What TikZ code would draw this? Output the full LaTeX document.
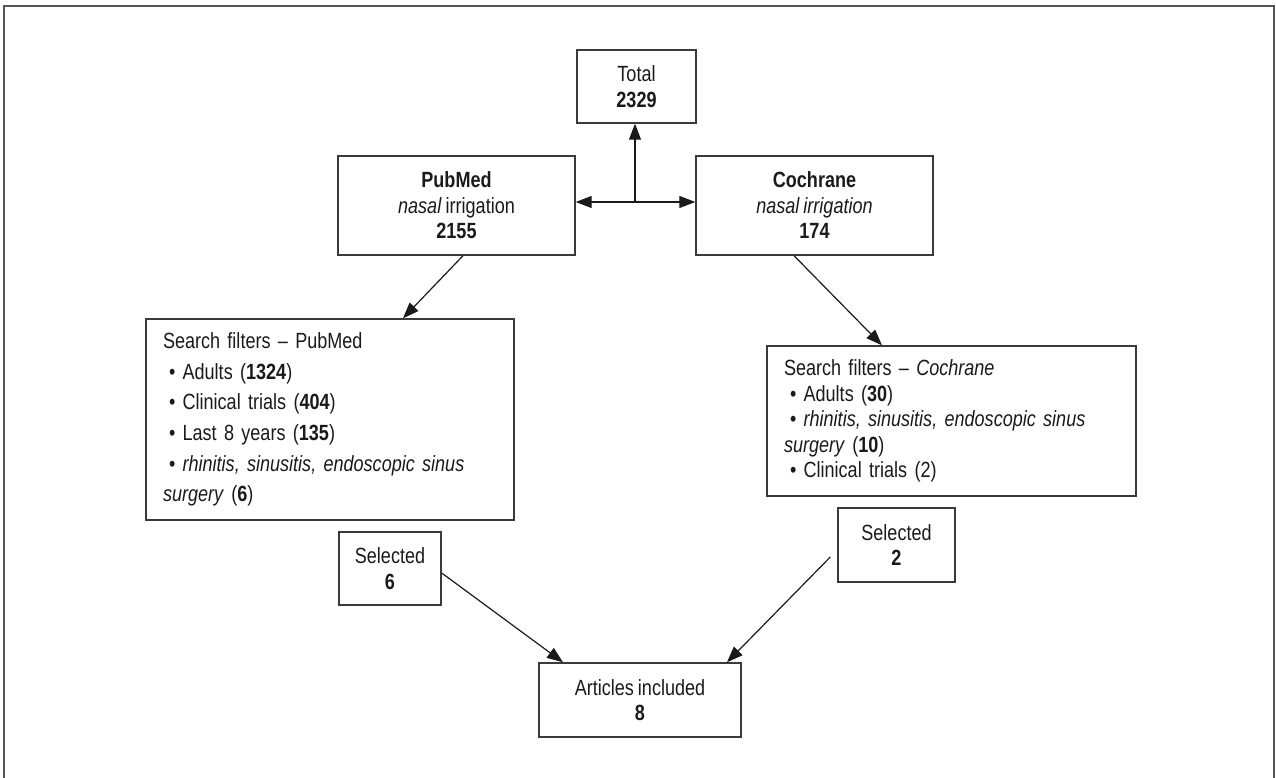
\documentclass[tikz,border=0pt]{standalone}
\usepackage{fontspec}
\setmainfont{Liberation Sans}[FakeStretch=0.82,WordSpace=0.8]
\usetikzlibrary{arrows.meta}
\definecolor{ink}{HTML}{1A1A1A}
\definecolor{boxline}{HTML}{3A3A3A}
\definecolor{frameline}{HTML}{555555}
\begin{document}
\begin{tikzpicture}[x=1pt,y=-1pt,
  >={Triangle[length=16pt,width=12pt]},
  box/.style={draw=boxline, line width=1.4pt, text=ink, inner sep=0pt, align=center,
    font=\fontsize{22}{25.5}\selectfont},
  listbox/.style={draw=boxline, line width=1.4pt, text=ink, inner xsep=17pt, inner ysep=0pt,
    align=left},
  conn/.style={draw=ink, line width=1.2pt, ->},
  frame/.style={draw=frameline, line width=2.5pt}
]
\useasboundingbox (0,0) rectangle (1276,778);
\draw[frame] (4,778) -- (4,6) -- (1274,6) -- (1274,778);

\node[box, minimum width=119pt, minimum height=73pt] (total) at (636.5,86.5) {Total\\\textbf{2329}};
\node[box, minimum width=237pt, minimum height=99pt] (pubmed) at (456.5,205.5)
  {\textbf{PubMed}\\\textit{nasal} irrigation\\\textbf{2155}};
\node[box, minimum width=237pt, minimum height=99pt] (cochrane) at (814.5,205.5)
  {\textbf{Cochrane}\\\textit{nasal irrigation}\\\textbf{174}};

\node[listbox, text width=334pt, minimum height=201pt, font=\fontsize{22}{30.6}\selectfont]
  (psearch) at (330,419.5)
  {Search filters -- PubMed\\
   \hspace*{6pt}\textbullet\ Adults (\textbf{1324})\\
   \hspace*{6pt}\textbullet\ Clinical trials (\textbf{404})\\
   \hspace*{6pt}\textbullet\ Last 8 years (\textbf{135})\\
   \hspace*{6pt}\textbullet\ \textit{rhinitis, sinusitis, endoscopic sinus}\\
   \textit{surgery} (\textbf{6})};
\node[listbox, text width=335pt, minimum height=150pt, font=\fontsize{22}{25.5}\selectfont]
  (csearch) at (951.5,421)
  {Search filters -- \textit{Cochrane}\\
   \hspace*{6pt}\textbullet\ Adults (\textbf{30})\\
   \hspace*{6pt}\textbullet\ \textit{rhinitis, sinusitis, endoscopic sinus}\\
   \textit{surgery} (\textbf{10})\\
   \hspace*{6pt}\textbullet\ Clinical trials (2)};

\node[box, minimum width=102pt, minimum height=73pt] (sel6) at (390,568.5) {Selected\\\textbf{6}};
\node[box, minimum width=117pt, minimum height=74pt] (sel2) at (896.5,545) {Selected\\\textbf{2}};
\node[box, minimum width=202pt, minimum height=74pt] (articles) at (640,700) {Articles included\\\textbf{8}};

\coordinate (mid) at (635,202);
\draw[conn, <->] (pubmed.east |- mid) -- (cochrane.west |- mid);
\draw[conn] (mid) -- (mid |- total.south);
\draw[conn] ([xshift=6.5pt]pubmed.south) -- ([xshift=73pt]psearch.north);
\draw[conn] ([xshift=-20.5pt]cochrane.south) -- ([xshift=-69.5pt]csearch.north);
\draw[conn] ([yshift=-4.5pt]sel6.east) -- ([xshift=-77pt]articles.north);
\draw[conn] ([xshift=-7pt,yshift=-12pt]sel2.west) -- ([xshift=87pt]articles.north);
\end{tikzpicture}
\end{document}
